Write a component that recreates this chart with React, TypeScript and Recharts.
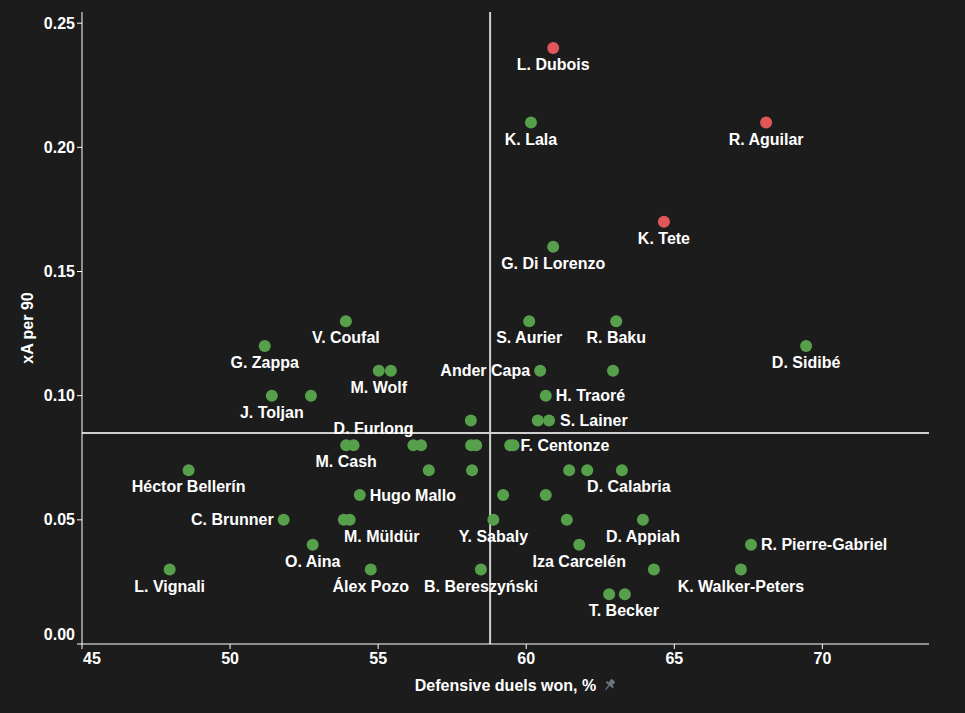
import React from 'react'
import { ScatterChart, Scatter, XAxis, YAxis, ReferenceLine } from 'recharts'

// highlighted players (red)
const redNames = ['L. Dubois', 'R. Aguilar', 'K. Tete']
const redDuels = [60.91, 68.1, 64.65]
const redXa = [0.24, 0.21, 0.17]

// everyone else (green), '' = unlabeled point
const greenNames = [
  'K. Lala', 'G. Di Lorenzo', 'V. Coufal', 'S. Aurier', 'R. Baku', 'G. Zappa', 'D. Sidibé',
  'M. Wolf', '', 'Ander Capa', '', 'J. Toljan', '', 'H. Traoré',
  '', '', 'S. Lainer',
  'M. Cash', 'D. Furlong', '', '', '', '', '', 'F. Centonze',
  'Héctor Bellerín', '', '', '', '', 'D. Calabria',
  'Hugo Mallo', '', '',
  'C. Brunner', '', 'M. Müldür', 'Y. Sabaly', '', 'D. Appiah',
  'O. Aina', 'Iza Carcelén', 'R. Pierre-Gabriel',
  'L. Vignali', 'Álex Pozo', 'B. Bereszyński', '', 'K. Walker-Peters',
  '', 'T. Becker',
]
const greenDuels = [
  60.16, 60.91, 53.91, 60.1, 63.04, 51.17, 69.45,
  55.02, 55.43, 60.47, 62.93, 51.41, 52.73, 60.66,
  58.13, 60.39, 60.77,
  53.92, 54.17, 56.19, 56.45, 58.14, 58.31, 59.46, 59.57,
  48.6, 56.71, 58.17, 61.45, 62.06, 63.23,
  54.38, 59.22, 60.66,
  51.81, 53.84, 54.04, 58.89, 61.37, 63.94,
  52.79, 61.79, 67.59,
  47.96, 54.75, 58.47, 64.31, 67.25,
  62.8, 63.33,
]
const greenXa = [
  0.21, 0.16, 0.13, 0.13, 0.13, 0.12, 0.12,
  0.11, 0.11, 0.11, 0.11, 0.1, 0.1, 0.1,
  0.09, 0.09, 0.09,
  0.08, 0.08, 0.08, 0.08, 0.08, 0.08, 0.08, 0.08,
  0.07, 0.07, 0.07, 0.07, 0.07, 0.07,
  0.06, 0.06, 0.06,
  0.05, 0.05, 0.05, 0.05, 0.05, 0.05,
  0.04, 0.04, 0.04,
  0.03, 0.03, 0.03, 0.03, 0.03,
  0.02, 0.02,
]

const xTicks = [45, 50, 55, 60, 65, 70]
const yTicks = [0, 0.05, 0.1, 0.15, 0.2, 0.25]
const duelsAvg = 58.78
const xaAvg = 0.085

const redData = redNames.map((name, i) => ({ name, duels: redDuels[i], xa: redXa[i] }))
const greenData = greenNames.map((name, i) => ({ name, duels: greenDuels[i], xa: greenXa[i] }))

// where each label sits relative to its dot
type Side = 'below' | 'above' | 'left' | 'right'
const labelSide: Record<string, { side: Side; dx?: number }> = {
  'H. Traoré': { side: 'right' },
  'S. Lainer': { side: 'right', dx: 1 },
  'F. Centonze': { side: 'right', dx: -3 },
  'Hugo Mallo': { side: 'right' },
  'R. Pierre-Gabriel': { side: 'right' },
  'Ander Capa': { side: 'left' },
  'C. Brunner': { side: 'left' },
  'D. Furlong': { side: 'above', dx: 20 },
  'M. Müldür': { side: 'below', dx: 32 },
  'D. Calabria': { side: 'below', dx: 7 },
  'T. Becker': { side: 'below', dx: -1 },
}

const FONT = '"Liberation Sans", Arial, sans-serif'
const BG = '#1c1c1c'

const makeDot = (color: string) => (props: any) => {
  const { cx, cy, payload } = props
  const pos = labelSide[payload.name] || { side: 'below' }
  const dx = pos.dx || 0
  let tx = cx + dx
  let ty = cy + 16.5
  let anchor: 'middle' | 'start' | 'end' = 'middle'
  if (pos.side === 'above') ty = cy - 17
  if (pos.side === 'right') { tx = cx + 10 + dx; ty = cy; anchor = 'start' }
  if (pos.side === 'left') { tx = cx - 10 + dx; ty = cy; anchor = 'end' }
  return (
    <g>
      <circle cx={cx} cy={cy} r={6} fill={color} />
      {payload.name && (
        <text x={tx} y={ty} textAnchor={anchor} dominantBaseline="central"
          fill="#ffffff" fontSize={16} fontWeight="bold" fontFamily={FONT}>
          {payload.name}
        </text>
      )}
    </g>
  )
}

const XTick = (props: any) => {
  const { x, y, payload } = props
  const shift = payload.value === 45 ? 10 : 0
  return (
    <text x={x + shift} y={y} dy="0.71em" textAnchor="middle" fill="#ffffff"
      fontSize={16} fontWeight="bold" fontFamily={FONT}>
      {payload.value}
    </text>
  )
}

const YTick = (props: any) => {
  const { x, y, payload } = props
  const shift = payload.value === 0 ? -10 : 0
  return (
    <text x={x} y={y + shift} dominantBaseline="central" textAnchor="end" fill="#ffffff"
      fontSize={16} fontWeight="bold" fontFamily={FONT}>
      {payload.value.toFixed(2)}
    </text>
  )
}

const XTitle = (props: any) => {
  const vb = props.viewBox
  const cx = vb.x + vb.width / 2
  const cy = vb.y + 41
  return (
    <g>
      <text x={cx} y={cy} textAnchor="middle" dominantBaseline="central" fill="#ffffff"
        fontSize={16} fontWeight="bold" fontFamily={FONT}>
        Defensive duels won, %
      </text>
      <g transform={`translate(${cx + 104}, ${cy}) rotate(40)`} fill="#70757e">
        <rect x={-2.5} y={-6} width={5} height={5} />
        <rect x={-4.5} y={-1.5} width={9} height={2} />
        <rect x={-0.6} y={0} width={1.2} height={6} />
      </g>
    </g>
  )
}

const YTitle = (props: any) => {
  const vb = props.viewBox
  const x = vb.x + 27
  const y = vb.y + vb.height / 2
  return (
    <text x={x} y={y} transform={`rotate(-90, ${x}, ${y})`} textAnchor="middle"
      dominantBaseline="central" fill="#ffffff" fontSize={16} fontWeight="bold" fontFamily={FONT}>
      xA per 90
    </text>
  )
}

export default function App() {
  return (
    <div style={{ position: 'absolute', left: 0, top: 0, width: 965, height: 713, background: BG }}>
      <ScatterChart width={965} height={713} margin={{ top: 12, right: 36, bottom: 0, left: 0 }}>
        <XAxis
          type="number"
          dataKey="duels"
          domain={[45, 73.6]}
          ticks={xTicks}
          allowDataOverflow
          height={69}
          stroke="#ffffff"
          tickSize={5}
          tickMargin={4}
          tick={<XTick />}
          label={<XTitle />}
        />
        <YAxis
          type="number"
          dataKey="xa"
          domain={[0, 0.2545]}
          ticks={yTicks}
          allowDataOverflow
          width={82}
          stroke="#ffffff"
          tickSize={5}
          tickMargin={2}
          tick={<YTick />}
          label={<YTitle />}
        />
        <Scatter data={greenData} shape={makeDot('#57a04b')} isAnimationActive={false} />
        <Scatter data={redData} shape={makeDot('#e15759')} isAnimationActive={false} />
        <ReferenceLine x={duelsAvg} stroke="#d0d0d0" strokeWidth={2} />
        <ReferenceLine y={xaAvg} stroke="#d0d0d0" strokeWidth={2} />
      </ScatterChart>
    </div>
  )
}
